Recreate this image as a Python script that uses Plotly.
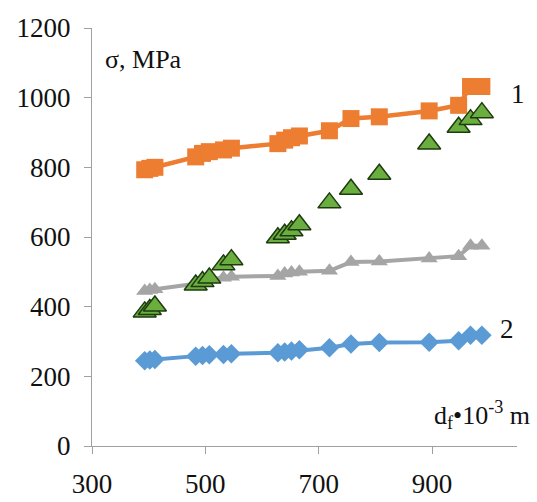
import plotly.graph_objects as go

x_vals = [393, 402, 411, 483, 495, 507, 532, 546, 628, 640, 652, 666, 719, 757, 807, 895, 947, 968, 988]
orange_vals = [793, 797, 800, 830, 840, 845, 850, 855, 868, 878, 885, 890, 905, 940, 945, 962, 978, 1032, 1032]
gray_vals = [445, 448, 450, 466, 472, 478, 483, 486, 488, 495, 498, 500, 503, 528, 530, 538, 545, 575, 575]
blue_vals = [245, 247, 248, 258, 260, 262, 263, 265, 268, 270, 273, 276, 282, 293, 297, 298, 302, 318, 318]
green_vals = [385, 392, 402, 462, 472, 482, 520, 535, 598, 608, 618, 635, 698, 737, 780, 867, 915, 937, 957]

x_ticks = [300, 500, 700, 900]
y_ticks = [0, 200, 400, 600, 800, 1000, 1200]

serif = "Liberation Serif"

fig = go.Figure()
fig.add_trace(go.Scatter(x=x_vals, y=blue_vals, mode="lines+markers",
                         line=dict(color="#5B9BD5", width=4),
                         marker=dict(symbol="diamond", size=15, color="#5B9BD5")))
fig.add_trace(go.Scatter(x=x_vals, y=gray_vals, mode="lines+markers",
                         line=dict(color="#A5A5A5", width=4),
                         marker=dict(symbol="triangle-up", size=15, color="#A5A5A5")))
fig.add_trace(go.Scatter(x=x_vals, y=orange_vals, mode="lines+markers",
                         line=dict(color="#ED7D31", width=4.5),
                         marker=dict(symbol="square", size=17, color="#ED7D31")))
fig.add_trace(go.Scatter(x=x_vals, y=green_vals, mode="markers",
                         marker=dict(symbol="triangle-up", size=20, color="#6AAE3F",
                                     line=dict(color="#1E3A10", width=1.5))))

fig.update_layout(
    width=537, height=502,
    margin=dict(l=92, r=20, t=28, b=56),
    paper_bgcolor="white", plot_bgcolor="white",
    showlegend=False,
    font=dict(family=serif, color="#111111", size=26),
    xaxis=dict(range=[300, 1050], tickvals=x_ticks, showgrid=False, zeroline=False,
               showline=True, linecolor="#A0A0A0", linewidth=1.2, automargin=False,
               ticks="outside", ticklen=7, tickcolor="#A0A0A0", ticklabelstandoff=6,
               tickfont=dict(family=serif, size=27, color="#111111")),
    yaxis=dict(range=[0, 1200], tickvals=y_ticks, showgrid=False, zeroline=False,
               showline=True, linecolor="#A0A0A0", linewidth=1.2, automargin=False,
               ticks="outside", ticklen=7, tickcolor="#A0A0A0", ticklabelstandoff=8,
               tickfont=dict(family=serif, size=27, color="#111111")),
    annotations=[
        dict(text="σ, MPa", xref="paper", yref="paper", x=0.025, y=0.925,
             xanchor="left", yanchor="middle", showarrow=False,
             font=dict(family=serif, size=26, color="#111111")),
        dict(text="1", xref="paper", yref="y", x=0.98, y=1010,
             xanchor="left", yanchor="middle", showarrow=False,
             font=dict(family=serif, size=27, color="#111111")),
        dict(text="2", xref="paper", yref="y", x=0.955, y=335,
             xanchor="left", yanchor="middle", showarrow=False,
             font=dict(family=serif, size=27, color="#111111")),
        dict(text="d<sub>f</sub>•10<sup>-3</sup> m", xref="paper", yref="paper",
             x=1.035, y=0.075, xanchor="right", yanchor="middle", showarrow=False,
             font=dict(family=serif, size=26, color="#111111")),
    ],
)

fig.write_html("out.html")
